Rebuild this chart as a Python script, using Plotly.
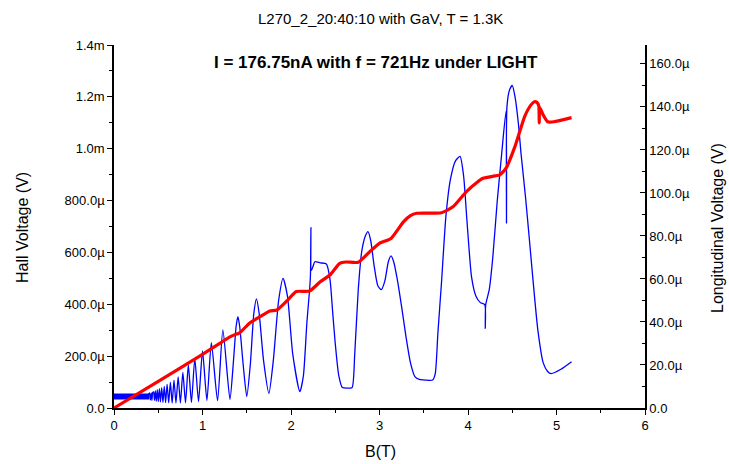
import plotly.graph_objects as go

# Hall voltage (red, left axis), B in T, V in microvolts
hall_B = [0.0, 0.5, 1.0, 1.2, 1.30, 1.36, 1.42, 1.53, 1.65, 1.76, 1.84, 1.95, 2.06, 2.21,
          2.33, 2.44, 2.55, 2.62, 2.76, 2.89, 3.00, 3.13, 3.27, 3.35, 3.42, 3.70, 3.83, 3.98,
          4.10, 4.17, 4.30, 4.36, 4.43, 4.53, 4.64, 4.71, 4.75, 4.78, 4.80, 4.805, 4.81,
          4.85, 4.90, 4.97, 5.17]
hall_uV = [0, 103, 207, 250, 272, 282, 290, 327, 352, 374, 378, 412, 449, 451,
           487, 513, 558, 563, 562, 603, 635, 654, 718, 742, 751, 753, 776, 834,
           870, 886, 895, 899, 925, 1008, 1124, 1168, 1181, 1178, 1165, 1100, 1160,
           1130, 1104, 1104, 1120]

# Longitudinal voltage (blue, right axis): noisy low-field band
band_B = [0.0, 0.40]
band_uV = [5.4, 5.4]

# Longitudinal voltage (blue, right axis), B in T, V in microvolts
long_B = [0.38, 0.40, 0.412, 0.42, 0.429, 0.437, 0.447, 0.457, 0.467, 0.478, 0.489, 0.50,
          0.513, 0.525, 0.539, 0.553, 0.568, 0.583, 0.60, 0.618, 0.637, 0.657, 0.678, 0.70,
          0.725, 0.75, 0.778, 0.808, 0.84, 0.875, 0.913, 0.955, 1.0, 1.05, 1.10, 1.17,
          1.23, 1.31, 1.35, 1.38, 1.40, 1.42, 1.46, 1.50, 1.54, 1.58, 1.61, 1.64, 1.69,
          1.75, 1.80, 1.86, 1.91, 1.96, 2.02, 2.10, 2.14, 2.18, 2.21, 2.22, 2.225, 2.23,
          2.25, 2.27, 2.33, 2.40, 2.44, 2.47, 2.50, 2.54, 2.58, 2.64, 2.69, 2.72, 2.76,
          2.80, 2.84, 2.87, 2.90, 2.94, 2.98, 3.02, 3.06, 3.10, 3.13, 3.16, 3.20, 3.25,
          3.30, 3.35, 3.40, 3.45, 3.52, 3.60, 3.63, 3.66, 3.70, 3.75, 3.80, 3.86, 3.91,
          3.95, 3.99, 4.04, 4.09, 4.14, 4.19, 4.195, 4.20, 4.24, 4.28, 4.33, 4.38, 4.43,
          4.435, 4.44, 4.47, 4.50, 4.53, 4.57, 4.60, 4.65, 4.69, 4.74, 4.79, 4.85, 4.90,
          4.94, 5.05, 5.17]
long_uV = [5.4, 7.0, 3.8, 7.0, 3.6, 7.2, 7.5, 3.5, 8.0, 3.2, 8.5, 3.0,
           9.0, 2.8, 9.5, 2.6, 10.0, 2.5, 11.0, 2.4, 12.0, 2.3, 13.0, 2.3,
           14.5, 2.3, 16.5, 2.4, 20.0, 2.6, 23.0, 3.0, 26.5, 3.5, 30.4, 3.4,
           36.3, 4.0, 22.0, 38.0, 42.5, 38.0, 20.0, 5.3, 20.0, 44.0, 50.7, 44.0, 22.0,
           6.8, 22.0, 50.0, 60.3, 52.0, 25.0, 7.6, 15.0, 40.0, 55.0, 62.0, 84.0, 64.0,
           66.0, 68.0, 67.5, 67.0, 60.0, 45.0, 30.0, 15.0, 9.5, 9.2, 9.5, 25.0, 55.0,
           73.0, 80.0, 82.0, 78.0, 66.0, 57.0, 55.0, 59.0, 68.0, 70.7, 68.0, 60.0, 47.0,
           33.0, 21.0, 14.6, 13.3, 13.0, 13.0, 16.0, 35.0, 58.0, 89.0, 106.0, 115.0, 117.0,
           108.0, 86.0, 61.0, 52.0, 49.0, 48.0, 37.0, 48.0, 55.0, 70.0, 96.0, 118.0, 138.0,
           86.0, 140.0, 148.0, 150.0, 145.0, 132.0, 118.0, 98.0, 80.0, 57.0, 36.0, 21.0, 17.0,
           16.0, 18.0, 21.5]

left_vals = [0, 200e-6, 400e-6, 600e-6, 800e-6, 1.0e-3, 1.2e-3, 1.4e-3]
left_text = ["0.0", "200.0\u00b5", "400.0\u00b5", "600.0\u00b5", "800.0\u00b5", "1.0m", "1.2m", "1.4m"]
right_vals = [0, 20e-6, 40e-6, 60e-6, 80e-6, 100e-6, 120e-6, 140e-6, 160e-6]
right_text = ["0.0", "20.0\u00b5", "40.0\u00b5", "60.0\u00b5", "80.0\u00b5", "100.0\u00b5",
              "120.0\u00b5", "140.0\u00b5", "160.0\u00b5"]
x_vals = [0, 1, 2, 3, 4, 5, 6]

FONT = "Liberation Sans, Arial, sans-serif"

fig = go.Figure()
fig.add_trace(go.Scatter(x=band_B, y=[v * 1e-6 for v in band_uV], mode="lines",
                         line=dict(color="#0000FF", width=6), yaxis="y", showlegend=False))
fig.add_trace(go.Scatter(x=long_B, y=[v * 1e-6 for v in long_uV], mode="lines",
                         line=dict(color="#0000FF", width=1.3, shape="spline", smoothing=0.6),
                         yaxis="y", showlegend=False))
fig.add_trace(go.Scatter(x=hall_B, y=[v * 1e-6 for v in hall_uV], mode="lines",
                         line=dict(color="#FF0000", width=3.2, shape="spline", smoothing=0.5),
                         yaxis="y2", showlegend=False))

W, H = 729, 464
L, R, T, B = 114, 84, 45, 56
pw, ph = W - L - R, H - T - B

def px(xp):
    return (xp - L) / pw

def py(yp):
    return (H - B - yp) / ph

fig.update_layout(
    width=W, height=H,
    margin=dict(l=L, r=R, t=T, b=B),
    paper_bgcolor="white", plot_bgcolor="white",
    font=dict(family=FONT, size=13, color="black"),
    xaxis=dict(range=[0, 6], showgrid=False, zeroline=False, showline=True,
               linecolor="black", linewidth=1.5, ticks="outside", ticklen=5,
               tickwidth=1.3, tickcolor="black", tickvals=x_vals,
               ticktext=[str(v) for v in x_vals],
               minor=dict(tickmode="linear", tick0=0, dtick=0.5, ticks="outside",
                          ticklen=3, tickcolor="black", tickwidth=1.3),
               tickfont=dict(size=13)),
    yaxis=dict(range=[0, 168.8e-6], side="right", anchor="x", showgrid=False,
               zeroline=False, showline=True, linecolor="black", linewidth=1.5,
               ticks="inside", ticklen=5, tickwidth=1.3, tickcolor="black",
               tickvals=right_vals, ticktext=right_text,
               minor=dict(tickmode="linear", tick0=0, dtick=10e-6, ticks="inside",
                          ticklen=3, tickcolor="black", tickwidth=1.3),
               tickfont=dict(size=13)),
    yaxis2=dict(range=[0, 1.4e-3], side="left", overlaying="y", anchor="x",
                showgrid=False, zeroline=False, showline=True, linecolor="black",
                linewidth=1.5, ticks="outside", ticklen=5, tickwidth=1.3,
                tickcolor="black", tickvals=left_vals, ticktext=left_text,
                minor=dict(tickmode="linear", tick0=0, dtick=100e-6, ticks="outside",
                           ticklen=3, tickcolor="black", tickwidth=1.3),
                tickfont=dict(size=13)),
    annotations=[
        dict(text="L270_2_20:40:10 with GaV, T = 1.3K", xref="paper", yref="paper",
             x=px(380), y=py(18), xanchor="center", yanchor="middle", showarrow=False,
             font=dict(size=15)),
        dict(text="<b>I = 176.75nA with f = 721Hz under LIGHT</b>", xref="paper",
             yref="paper", x=px(376), y=py(63), xanchor="center", yanchor="middle",
             showarrow=False, font=dict(size=17)),
        dict(text="Hall Voltage (V)", xref="paper", yref="paper", x=px(22), y=py(228),
             xanchor="center", yanchor="middle", textangle=-90, showarrow=False,
             font=dict(size=16)),
        dict(text="Longitudinal Voltage (V)", xref="paper", yref="paper", x=px(717),
             y=py(228), xanchor="center", yanchor="middle", textangle=-90,
             showarrow=False, font=dict(size=16)),
        dict(text="B(T)", xref="paper", yref="paper", x=px(380), y=py(452),
             xanchor="center", yanchor="middle", showarrow=False, font=dict(size=16)),
    ],
)

fig.write_html("out.html")
